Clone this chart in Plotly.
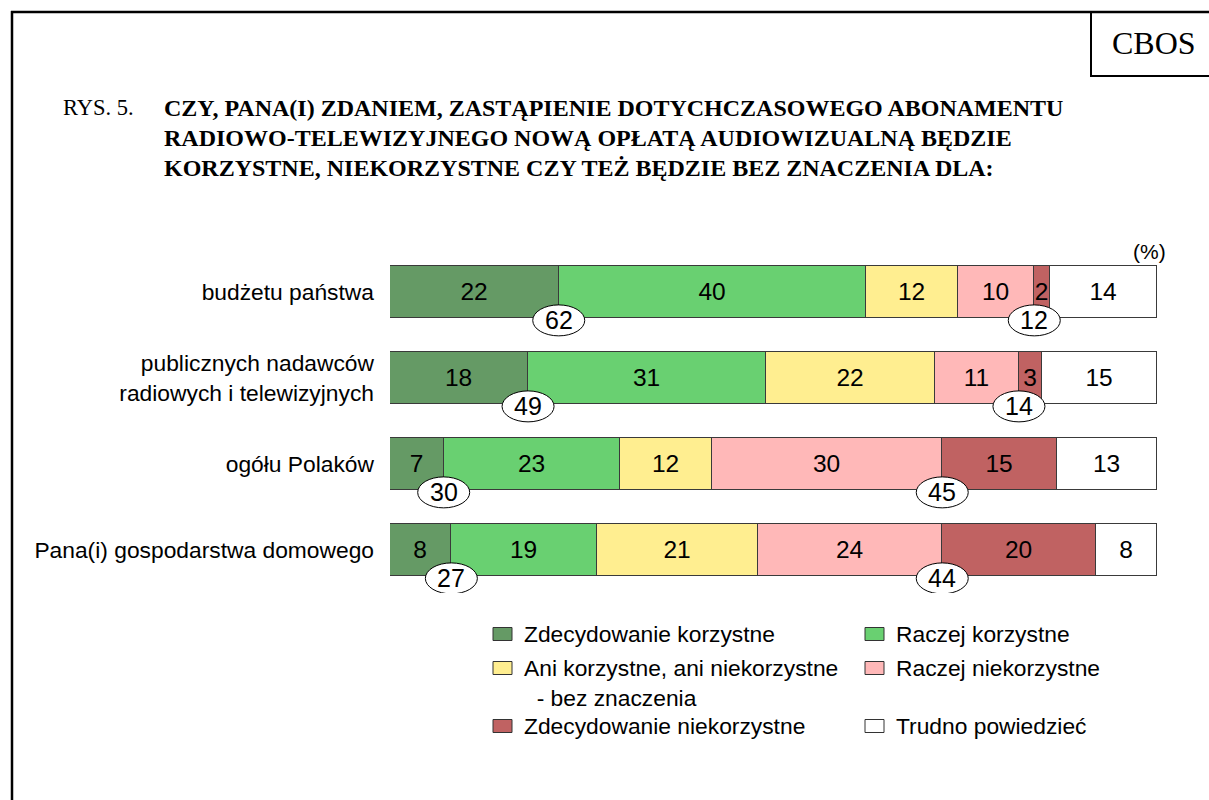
import plotly.graph_objects as go

# ---- data ----
categories = [
    "budżetu państwa",
    "publicznych nadawców<br>radiowych i telewizyjnych",
    "ogółu Polaków",
    "Pana(i) gospodarstwa domowego",
]
series_names = [
    "Zdecydowanie korzystne",
    "Raczej korzystne",
    "Ani korzystne, ani niekorzystne<br>\u00a0\u00a0- bez znaczenia",
    "Raczej niekorzystne",
    "Zdecydowanie niekorzystne",
    "Trudno powiedzieć",
]
zdecydowanie_korzystne = [22, 18, 7, 8]
raczej_korzystne = [40, 31, 23, 19]
bez_znaczenia = [12, 22, 12, 21]
raczej_niekorzystne = [10, 11, 30, 24]
zdecydowanie_niekorzystne = [2, 3, 15, 20]
trudno_powiedziec = [14, 15, 13, 8]

series_values = [
    zdecydowanie_korzystne,
    raczej_korzystne,
    bez_znaczenia,
    raczej_niekorzystne,
    zdecydowanie_niekorzystne,
    trudno_powiedziec,
]
colors = ["#659A65", "#69D071", "#FFEE90", "#FFB8B8", "#C06262", "#FFFFFF"]

title_lines = [
    "CZY, PANA(I) ZDANIEM, ZASTĄPIENIE DOTYCHCZASOWEGO ABONAMENTU",
    "RADIOWO-TELEWIZYJNEGO NOWĄ OPŁATĄ AUDIOWIZUALNĄ BĘDZIE",
    "KORZYSTNE, NIEKORZYSTNE CZY TEŻ BĘDZIE BEZ ZNACZENIA DLA:",
]

# ---- layout geometry (pixels) ----
W, H = 1209, 800
ML, MR, MT, MB = 390, 52, 249, 207
PW, PH = W - ML - MR, H - MT - MB
SANS = "Liberation Sans, Arial, sans-serif"
SERIF = "Liberation Serif, Times New Roman, serif"
FS = 22.8


def px(x):
    return (x - ML) / PW


def py(y):
    return (H - MB - y) / PH


rows = list(range(len(categories)))
fig = go.Figure()
for name, vals, col in zip(series_names, series_values, colors):
    fig.add_trace(go.Bar(
        y=rows, x=vals, orientation="h", name=name,
        marker=dict(color=col, line=dict(color="#3a3a3a", width=1)),
        width=0.605,
        text=[str(v) for v in vals], textposition="inside",
        insidetextanchor="middle", textangle=0, constraintext="none",
        textfont=dict(family=SANS, size=24.5, color="black"),
        hoverinfo="skip", showlegend=False,
    ))

shapes = []
annotations = []

# summary ellipses
for r in rows:
    pos = zdecydowanie_korzystne[r] + raczej_korzystne[r]
    neg = raczej_niekorzystne[r] + zdecydowanie_niekorzystne[r]
    b_pos = zdecydowanie_korzystne[r]
    b_neg = (zdecydowanie_korzystne[r] + raczej_korzystne[r]
             + bez_znaczenia[r] + raczej_niekorzystne[r])
    yc = r + 0.33
    for bx, val in ((b_pos, pos), (b_neg, neg)):
        shapes.append(dict(type="circle", xref="x", yref="y",
                           x0=bx - 3.39, x1=bx + 3.39,
                           y0=yc - 0.18, y1=yc + 0.18,
                           fillcolor="white", line=dict(color="black", width=1)))
        annotations.append(dict(x=bx, y=yc, xref="x", yref="y", text=str(val),
                                xanchor="center", yanchor="middle",
                                showarrow=False,
                                font=dict(family=SANS, size=25, color="black")))

# frame
shapes.append(dict(type="line", xref="paper", yref="paper",
                   x0=px(12), x1=px(12), y0=py(11), y1=py(800),
                   line=dict(color="black", width=2.5)))
shapes.append(dict(type="line", xref="paper", yref="paper",
                   x0=px(11), x1=px(1209), y0=py(12), y1=py(12),
                   line=dict(color="black", width=2.5)))
# CBOS box
shapes.append(dict(type="line", xref="paper", yref="paper",
                   x0=px(1091), x1=px(1091), y0=py(12), y1=py(76),
                   line=dict(color="black", width=2)))
shapes.append(dict(type="line", xref="paper", yref="paper",
                   x0=px(1090), x1=px(1209), y0=py(76), y1=py(76),
                   line=dict(color="black", width=2)))
annotations.append(dict(x=px(1154), y=py(43), xref="paper", yref="paper",
                        xanchor="center", yanchor="middle",
                        text="CBOS", showarrow=False,
                        font=dict(family=SERIF, size=32, color="black")))

# title
annotations.append(dict(x=px(61), y=py(108), xref="paper", yref="paper",
                        xanchor="left", yanchor="middle", text="RYS. 5.", showarrow=False,
                        font=dict(family=SERIF, size=22.5, color="black")))
for i, line in enumerate(title_lines):
    annotations.append(dict(x=px(162), y=py(108 + 30 * i), xref="paper", yref="paper",
                            xanchor="left", yanchor="middle",
                            text="<b>" + line + "</b>", showarrow=False,
                            font=dict(family=SERIF, size=24, color="black")))

annotations.append(dict(x=px(1168), y=py(251), xref="paper", yref="paper",
                        xanchor="right", yanchor="middle", text="(%)", showarrow=False,
                        font=dict(family=SANS, size=21, color="black")))

# legend (manual, two columns)
legend_pos = [
    (493, 634), (865, 634),
    (493, 668), (865, 668),
    (493, 726), (865, 726),
]
for (lx, ly), name, col in zip(legend_pos, series_names, colors):
    shapes.append(dict(type="rect", xref="paper", yref="paper",
                       x0=px(lx), x1=px(lx + 19), y0=py(ly - 6.5), y1=py(ly + 6.5),
                       fillcolor=col, line=dict(color="#333333", width=1)))
    annotations.append(dict(x=px(lx + 29), y=py(ly - 15.5), xref="paper", yref="paper",
                            xanchor="left", yanchor="top", align="left",
                            text=name, showarrow=False,
                            font=dict(family=SANS, size=FS, color="black")))

fig.update_layout(
    width=W, height=H,
    margin=dict(l=ML, r=MR, t=MT, b=MB, pad=0),
    barmode="stack", bargap=0,
    plot_bgcolor="white", paper_bgcolor="white",
    xaxis=dict(range=[0, 100], visible=False, fixedrange=True),
    yaxis=dict(range=[3.5, -0.5], tickvals=rows, ticktext=categories,
               showgrid=False, zeroline=False, showline=False, ticks="",
               ticklabelstandoff=15,
               tickfont=dict(family=SANS, size=FS, color="black"), fixedrange=True),
    shapes=shapes, annotations=annotations,
    showlegend=False,
)

fig.write_html("out.html", config={"displayModeBar": False},
               post_script="document.body.style.margin='0';")
